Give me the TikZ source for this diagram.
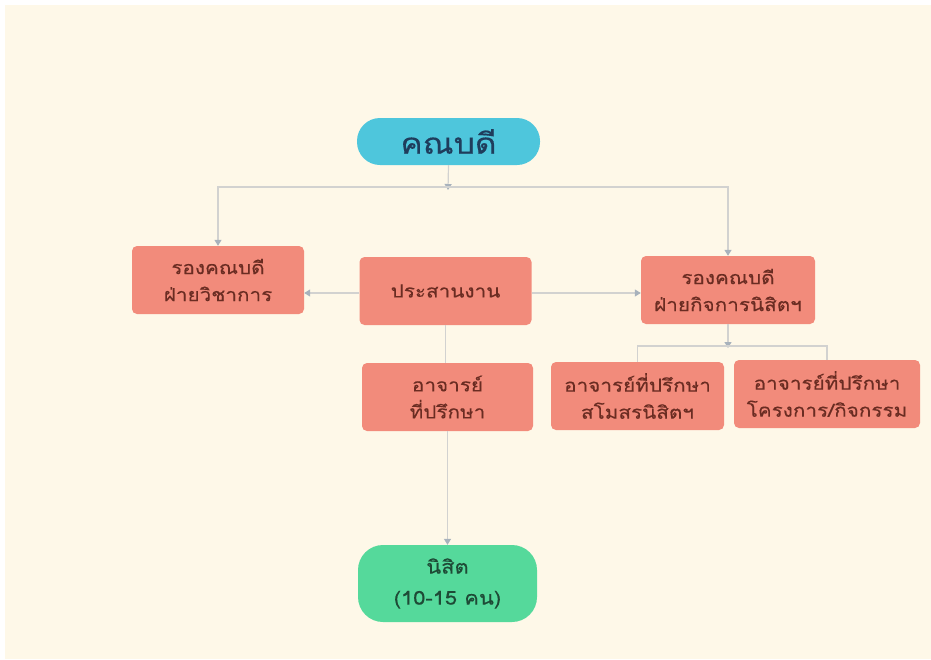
\documentclass[tikz,border=0pt]{standalone}
\usepackage{fontspec}
\newfontfamily\thaifont[Script=Thai,FakeStretch=1.15,FakeBold=0.35]{Loma}
\usetikzlibrary{arrows.meta}
\definecolor{bgc}{HTML}{FEF8E8}
\definecolor{cyanc}{HTML}{4EC6DC}
\definecolor{salm}{HTML}{F28B7B}
\definecolor{greenc}{HTML}{55D99B}
\definecolor{linec}{HTML}{D2D2D0}
\definecolor{tipc}{HTML}{A8B2BC}
\definecolor{txtsal}{HTML}{6A2C22}
\definecolor{txtcy}{HTML}{1F3D5C}
\definecolor{txtgr}{HTML}{1E4A36}
\tikzset{
  x=1pt, y=-1pt,
  box/.style={fill=salm, rounded corners=5pt, minimum width=172pt, minimum height=68pt,
    align=center, text=txtsal, font=\thaifont\fontsize{18}{27}\selectfont, inner sep=2pt},
  pillc/.style={fill=cyanc, rounded corners=23pt, minimum width=183pt, minimum height=47pt,
    text=txtcy, font=\thaifont\fontsize{29}{32}\selectfont, inner sep=0pt},
  pillg/.style={fill=greenc, rounded corners=25pt, minimum width=179pt, minimum height=77pt,
    align=center, text=txtgr, font=\thaifont\fontsize{19}{31}\selectfont, inner sep=0pt},
  conn/.style={draw=linec, line width=1.2pt},
  arr/.style={conn, -{Triangle[length=6pt,width=7pt,fill=tipc,color=tipc]}},
}
\begin{document}
\begin{tikzpicture}
\fill[white] (0,0) rectangle (931,659);
\fill[bgc] (5,5) rectangle (931,659);
\useasboundingbox (0,0) rectangle (931,659);

\node[pillc] (dean) at (448.5,141.5) {คณบดี};
\node[box] (vp1) at (218,280) {รองคณบดี\\ฝ่ายวิชาการ};
\node[box] (coord) at (445.5,291) {ประสานงาน};
\node[box, minimum width=174pt] (vp2) at (728,290) {รองคณบดี\\ฝ่ายกิจการนิสิตฯ};
\node[box, minimum width=171pt] (adv) at (447.5,397) {อาจารย์\\ที่ปรึกษา};
\node[box, minimum width=173pt] (adv1) at (637.5,396) {อาจารย์ที่ปรึกษา\\สโมสรนิสิตฯ};
\node[box, minimum width=186pt] (adv2) at (827,394) {อาจารย์ที่ปรึกษา\\โครงการ/กิจกรรม};
\node[pillg] (stu) at (447.5,583.5) {นิสิต\\(10-15 คน)};

\coordinate (bus) at (448,187);
\coordinate (bus2) at (728,346);

\draw[arr] (dean.south) -- ([yshift=-3pt]bus);
\draw[arr] (bus) -| (vp1.north);
\draw[arr] (bus) -| (vp2.north);
\draw[arr] ([yshift=-2pt]coord.west) -- ([yshift=-2pt]vp1.east |- coord.west);
\draw[arr] ([yshift=-2pt]coord.east) -- ([yshift=-2pt]vp2.west |- coord.east);
\draw[conn] (coord.south) -- (coord.south |- adv.north);
\draw[arr] (stu.north |- adv.south) -- (stu.north);
\draw[arr] (vp2.south) -- ([yshift=-2pt]bus2);
\draw[conn] (bus2) -| (adv1.north);
\draw[conn] (bus2) -| (adv2.north);
\end{tikzpicture}
\end{document}
